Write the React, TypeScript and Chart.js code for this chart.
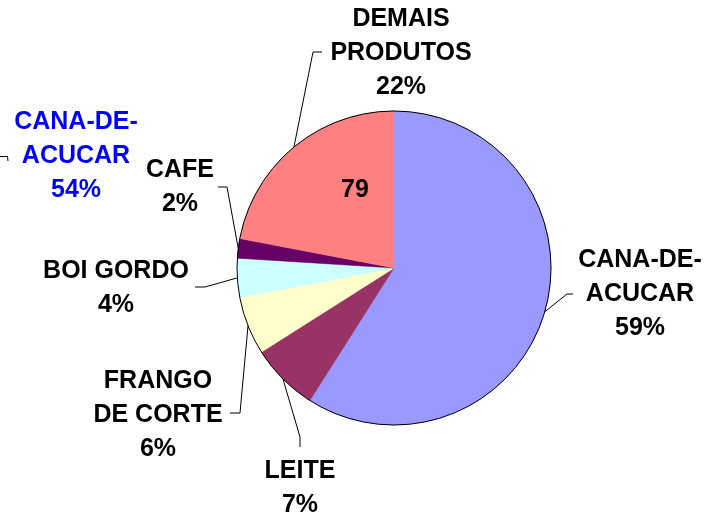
import React, { useEffect, useRef } from "react";
import { Chart, registerables } from "chart.js";

Chart.register(...registerables);

const categories = ["CANA-DE-ACUCAR", "LEITE", "FRANGO DE CORTE", "BOI GORDO", "CAFE", "DEMAIS PRODUTOS"];
const labelLines = [["CANA-DE-", "ACUCAR", "59%"], ["LEITE", "7%"], ["FRANGO", "DE CORTE", "6%"], ["BOI GORDO", "4%"], ["CAFE", "2%"], ["DEMAIS", "PRODUTOS", "22%"]];
const values = [59, 7, 6, 4, 2, 22];
const colors = ["#9999FF", "#993366", "#FFFFCC", "#CCFFFF", "#660066", "#FF8080"];
const innerValueText = "79";
const extraLabelLines = ["CANA-DE-", "ACUCAR", "54%"];

// label layout: text center x, first line y, elbow, stub end
const labelLayout = [
  { x: 640, y: 260, elbow: [567, 294], end: [573, 294] },
  { x: 300, y: 471, elbow: [300, 437], end: [300, 447] },
  { x: 158, y: 381, elbow: [240, 413], end: [230, 413] },
  { x: 116, y: 271, elbow: [205, 287], end: [195, 287] },
  { x: 180, y: 170, elbow: [227, 187], end: [218, 187] },
  { x: 401, y: 19, elbow: [313, 52], end: [322, 52] },
];
const LINE_H = 34;

const labelPlugin = {
  id: "pieLabels",
  afterDraw(chart: any) {
    const ctx = chart.ctx;
    const meta = chart.getDatasetMeta(0);
    ctx.save();
    // outer outline only (no separators between slices)
    const a0 = meta.data[0].getProps(["x", "y", "outerRadius"], true);
    ctx.strokeStyle = "#000";
    ctx.lineWidth = 1;
    ctx.beginPath();
    ctx.arc(a0.x, a0.y, a0.outerRadius, 0, Math.PI * 2);
    ctx.stroke();

    ctx.font = "bold 25px 'Liberation Sans', Arial, sans-serif";
    ctx.textAlign = "center";
    ctx.textBaseline = "middle";
    meta.data.forEach((arc: any, i: number) => {
      const p = arc.getProps(["x", "y", "startAngle", "endAngle", "outerRadius"], true);
      const mid = (p.startAngle + p.endAngle) / 2;
      const ax = p.x + Math.cos(mid) * p.outerRadius;
      const ay = p.y + Math.sin(mid) * p.outerRadius;
      const L = labelLayout[i];
      ctx.strokeStyle = "#000";
      ctx.lineWidth = 1;
      ctx.beginPath();
      ctx.moveTo(ax, ay);
      ctx.lineTo(L.elbow[0], L.elbow[1]);
      ctx.lineTo(L.end[0], L.end[1]);
      ctx.stroke();
      ctx.fillStyle = "#000";
      labelLines[i].forEach((t, k) => ctx.fillText(t, L.x, L.y + k * LINE_H));
    });
    // value inside pink slice
    ctx.fillStyle = "#000";
    ctx.fillText(innerValueText, 355, 190);
    // extra blue label with cut-off leader
    ctx.fillStyle = "#0000FF";
    extraLabelLines.forEach((t, k) => ctx.fillText(t, 76, 122 + k * LINE_H));
    ctx.strokeStyle = "#000";
    ctx.beginPath();
    ctx.moveTo(0, 156.5);
    ctx.lineTo(7.5, 156.5);
    ctx.lineTo(8, 161);
    ctx.stroke();
    ctx.restore();
  },
};

export default function App() {
  const ref = useRef<HTMLCanvasElement>(null);
  useEffect(() => {
    document.body.style.margin = "0";
    document.body.style.background = "#fff";
    const chart = new Chart(ref.current!, {
      type: "pie",
      data: {
        labels: categories,
        datasets: [
          {
            data: values,
            backgroundColor: colors,
            borderColor: colors,
            borderWidth: 0.5,
          },
        ],
      },
      options: {
        responsive: false,
        animation: false,
        radius: 157,
        layout: { padding: { left: 74, right: 0, top: 19, bottom: 0 } },
        plugins: { legend: { display: false }, tooltip: { enabled: false } },
      } as any,
      plugins: [labelPlugin],
    });
    return () => chart.destroy();
  }, []);
  return <canvas ref={ref} width={714} height={517} style={{ display: "block" }} />;
}
